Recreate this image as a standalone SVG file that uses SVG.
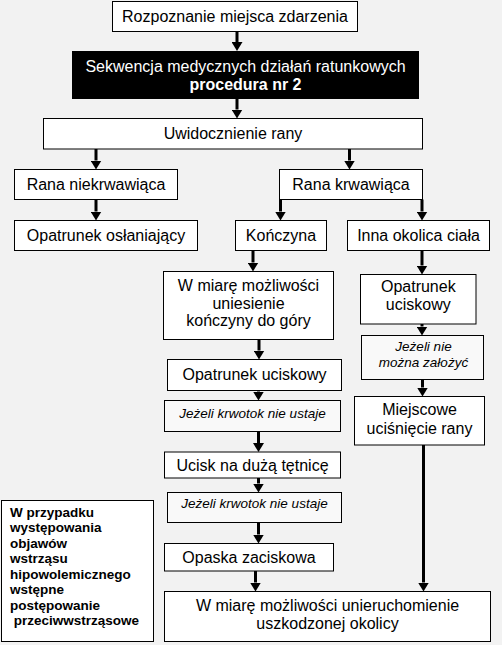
<svg xmlns="http://www.w3.org/2000/svg" width="502" height="645" viewBox="0 0 502 645">
<style>
.bx{fill:#fff;stroke:#000;stroke-width:1}
.bi{fill:#f9f9f9;stroke:#000;stroke-width:1}
.t{font-family:"Liberation Sans",Arial,sans-serif;font-size:16px;fill:#000;text-anchor:middle}
.i{font-family:"Liberation Sans",Arial,sans-serif;font-size:13.5px;font-style:italic;fill:#000;text-anchor:middle}
.w{font-family:"Liberation Sans",Arial,sans-serif;font-size:16px;fill:#fff;text-anchor:middle}
.b{font-family:"Liberation Sans",Arial,sans-serif;font-size:13.5px;font-weight:bold;fill:#000}
.c{fill:none;stroke:#000;stroke-width:3;marker-end:url(#ah)}
</style>
<defs>
<marker id="ah" markerUnits="userSpaceOnUse" markerWidth="9" markerHeight="11" viewBox="0 0 9 11" refX="0" refY="5.5" orient="auto">
<path d="M0,0 L9,5.5 L0,11 z" fill="#000"/>
</marker>
</defs>
<rect width="502" height="645" fill="#f2f2f2"/>
<g id="connectors">
<path class="c" d="M237,31 V42"/>
<path class="c" d="M237,99 V109.5"/>
<path class="c" d="M96,149 V160.5"/>
<path class="c" d="M349.5,149 V160.5"/>
<path class="c" d="M96,199.5 V211.5"/>
<path class="c" d="M280.5,199.5 V211.5"/>
<path class="c" d="M422,199.5 V211.5"/>
<path class="c" d="M253,250.5 V262.5"/>
<path class="c" d="M422,250.5 V265.5"/>
<path class="c" d="M422,324 V326.5"/>
<path class="c" d="M422.5,379.5 V387.5"/>
<path class="c" d="M259,339.5 V350.5"/>
<path class="c" d="M258.5,390.5 V391.5"/>
<path class="c" d="M258.5,431.5 V443"/>
<path class="c" d="M258.5,478 V483.5"/>
<path class="c" d="M258.5,522.5 V534.5"/>
<path class="c" d="M255.5,571 V582.5"/>
<path class="c" d="M423.5,445 V582.5"/>
</g>
<g id="n1"><rect class="bx" x="112.5" y="1.5" width="245" height="30"/><text class="t" x="235" y="21.5">Rozpoznanie miejsca zdarzenia</text></g>
<g id="n2"><rect x="72" y="51" width="347" height="48" fill="#000"/><text class="w" x="245.5" y="72">Sekwencja medycznych działań ratunkowych</text><text class="w" x="245.5" y="90" font-weight="bold">procedura nr 2</text></g>
<g id="n3"><rect class="bx" x="43.5" y="118.5" width="379" height="30.5"/><text class="t" x="233" y="139">Uwidocznienie rany</text></g>
<g id="n4"><rect class="bx" x="14.5" y="169.5" width="163" height="30"/><text class="t" x="96" y="189.5">Rana niekrwawiąca</text></g>
<g id="n5"><rect class="bx" x="279.5" y="169.5" width="143" height="30"/><text class="t" x="351" y="189.5">Rana krwawiąca</text></g>
<g id="n6"><rect class="bx" x="14.5" y="220.5" width="183" height="30"/><text class="t" x="106" y="241">Opatrunek osłaniający</text></g>
<g id="n7"><rect class="bx" x="235.5" y="220.5" width="91" height="30"/><text class="t" x="281" y="241">Kończyna</text></g>
<g id="n8"><rect class="bx" x="347.5" y="220.5" width="142" height="30"/><text class="t" x="418.5" y="241">Inna okolica ciała</text></g>
<g id="n9"><rect class="bx" x="163.5" y="271.5" width="170" height="68"/><text class="t" x="248.5" y="291">W miarę możliwości</text><text class="t" x="248.5" y="308.5">uniesienie</text><text class="t" x="248.5" y="326">kończyny do góry</text></g>
<g id="n10"><rect class="bx" x="360.5" y="274.5" width="115.5" height="49.5"/><text class="t" x="418.3" y="292">Opatrunek</text><text class="t" x="418.3" y="310">uciskowy</text></g>
<g id="n11"><rect class="bi" x="361.5" y="335.5" width="122" height="44"/><text class="i" x="423.5" y="350.5">Jeżeli nie</text><text class="i" x="423.5" y="367">można założyć</text></g>
<g id="n12"><rect class="bx" x="354.5" y="396.5" width="130" height="48.5"/><text class="t" x="419.5" y="415">Miejscowe</text><text class="t" x="419.5" y="434">uciśnięcie rany</text></g>
<g id="n13"><rect class="bx" x="167.5" y="359.5" width="174" height="31"/><text class="t" x="254.5" y="380">Opatrunek uciskowy</text></g>
<g id="n14"><rect class="bi" x="164.5" y="400.5" width="176" height="31"/><text class="i" x="252.5" y="418">Jeżeli krwotok nie ustaje</text></g>
<g id="n15"><rect class="bx" x="164.5" y="452" width="176" height="26"/><text class="t" x="252.5" y="470.5">Ucisk na dużą tętnicę</text></g>
<g id="n16"><rect class="bi" x="167.5" y="492.5" width="174" height="30"/><text class="i" x="254.5" y="508">Jeżeli krwotok nie ustaje</text></g>
<g id="n17"><rect class="bx" x="164.5" y="543.5" width="169" height="27.5"/><text class="t" x="249" y="562.5">Opaska zaciskowa</text></g>
<g id="n18"><rect class="bx" x="164.5" y="591.5" width="326" height="50"/><text class="t" x="327.5" y="610.5">W miarę możliwości unieruchomienie</text><text class="t" x="327.5" y="628.5">uszkodzonej okolicy</text></g>
<g id="n19"><rect class="bx" x="1.5" y="500.5" width="152" height="141"/>
<text class="b" x="10" y="516.5">W przypadku</text>
<text class="b" x="10" y="532">występowania</text>
<text class="b" x="10" y="547.5">objawów</text>
<text class="b" x="10" y="563">wstrząsu</text>
<text class="b" x="10" y="578.5">hipowolemicznego</text>
<text class="b" x="10" y="594">wstępne</text>
<text class="b" x="10" y="609.5">postępowanie</text>
<text class="b" x="10" y="625" xml:space="preserve"> przeciwwstrząsowe</text>
</g>
</svg>
